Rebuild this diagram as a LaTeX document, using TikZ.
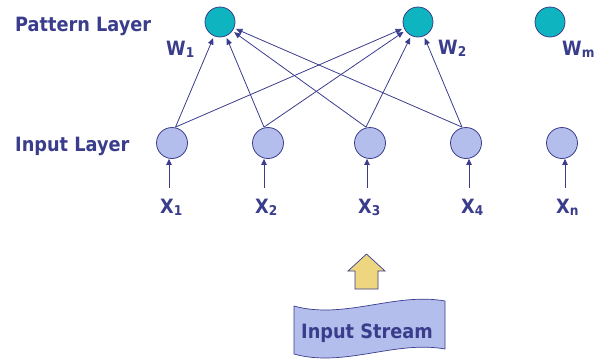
\documentclass[tikz,border=0pt]{standalone}
\usepackage{fontspec}
\setmainfont{DejaVu Sans Condensed}
\usetikzlibrary{arrows.meta}

\definecolor{ink}{RGB}{58,60,140}
\definecolor{pattfill}{RGB}{14,181,193}
\definecolor{lav}{RGB}{180,190,236}
\definecolor{sun}{RGB}{238,214,128}

% lowered small index after a bold symbol
\newcommand{\lsub}[1]{\raisebox{-2pt}{\fontsize{13.5}{13.5}\selectfont #1}}

\tikzset{
  lbl/.style={font=\fontsize{19.7}{22}\selectfont\bfseries, text=ink, inner sep=0pt, anchor=base west},
  pnode/.style={circle, draw=ink, line width=0.8pt, fill=pattfill, minimum size=30pt, inner sep=0pt},
  inode/.style={circle, draw=ink, line width=0.8pt, fill=lav, minimum size=31pt, inner sep=0pt},
  link/.style={draw=ink, line width=0.8pt, -{Triangle[length=6.5pt,width=5.5pt]}, shorten >=2pt},
  feed/.style={draw=ink, line width=0.8pt, -{Triangle[length=6pt,width=5.5pt]}},
}

\begin{document}
\begin{tikzpicture}[x=1pt, y=-1pt]
  \useasboundingbox (0,0) rectangle (594,362);

  % layer titles
  \node[lbl] (pl) at (15,31) {Pattern Layer};
  \node[lbl] (il) at (15,151) {Input Layer};

  % pattern units
  \node[pnode] (w1) at (220,22) {};
  \node[pnode] (w2) at (418,22) {};
  \node[pnode] (wm) at (550,22) {};
  \node[lbl] (lw1) at (166,55) {W\lsub{1}};
  \node[lbl] (lw2) at (438,54) {W\lsub{2}};
  \node[lbl] (lwm) at (562,55) {W\lsub{m}};

  % input units
  \node[inode] (i1) at (172,143) {};
  \node[inode] (i2) at (268,143) {};
  \node[inode] (i3) at (370,143) {};
  \node[inode] (i4) at (466,143) {};
  \node[inode] (i5) at (562,143) {};

  % input values
  \node[lbl] (x1) at (160,213) {X\lsub{1}};
  \node[lbl] (x2) at (255,213) {X\lsub{2}};
  \node[lbl] (x3) at (358,213) {X\lsub{3}};
  \node[lbl] (x4) at (461,213) {X\lsub{4}};
  \node[lbl] (xn) at (556,213) {X\lsub{n}};

  % feeds into the input units
  \coordinate (f1) at (169,188);
  \coordinate (f2) at (264,188);
  \coordinate (f3) at (367,188);
  \coordinate (f4) at (469,188);
  \coordinate (f5) at (565,188);
  \draw[feed] (f1) -- (f1 |- i1.south);
  \draw[feed] (f2) -- (f2 |- i2.south);
  \draw[feed] (f3) -- (f3 |- i3.south);
  \draw[feed] (f4) -- (f4 |- i4.south);
  \draw[feed] (f5) -- (f5 |- i5.south);

  % full connections input -> pattern
  \draw[link] ([xshift=3.5pt]i1.north) -- (w1);
  \draw[link] ([xshift=3.5pt]i1.north) -- (w2);
  \draw[link] ([xshift=-4pt]i2.north) -- (w1);
  \draw[link] ([xshift=-4pt]i2.north) -- (w2);
  \draw[link] ([xshift=-4pt]i3.north) -- (w1);
  \draw[link] ([xshift=-4pt]i3.north) -- (w2);
  \draw[link] ([xshift=-4pt]i4.north) -- (w1);
  \draw[link] ([xshift=-4pt]i4.north) -- (w2);

  % block arrow
  \draw[fill=sun, draw=ink, line width=0.7pt]
    (366.5,254) -- (385,271) -- (378,271) -- (378,289) -- (355,289)
    -- (355,271) -- (348,271) -- cycle;

  % wavy stream banner
  \draw[fill=lav, draw=ink, line width=0.7pt]
    (294,306) .. controls (344,320) and (395,292) .. (445,301)
    -- (445,349) .. controls (395,340) and (344,368) .. (294,354) -- cycle;
  \node[lbl] (st) at (301,338) {Input Stream};
\end{tikzpicture}
\end{document}
